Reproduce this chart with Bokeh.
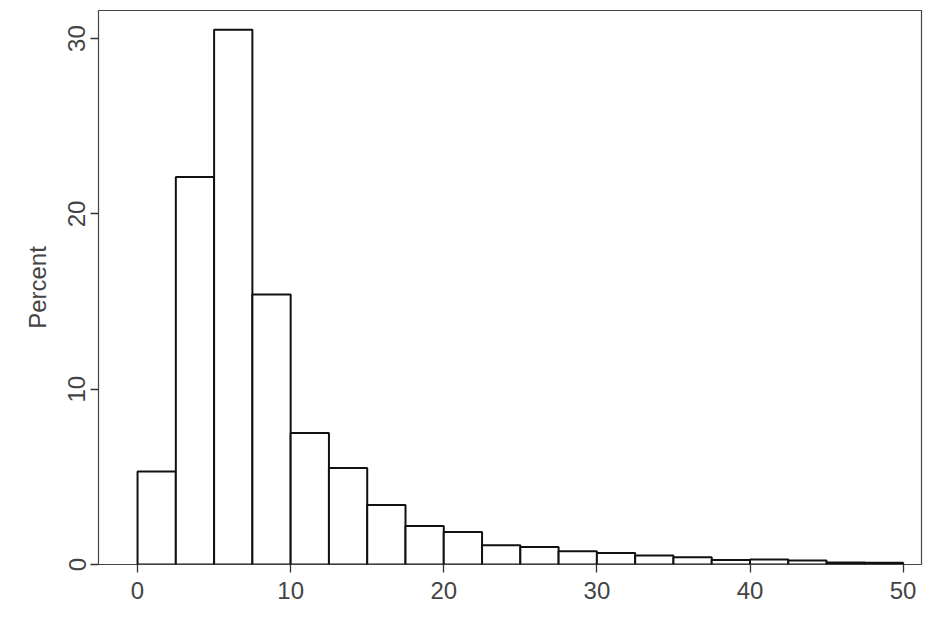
from bokeh.plotting import figure
from bokeh.models import ColumnDataSource, Range1d, FixedTicker
from bokeh.embed import file_html
from bokeh.resources import INLINE

bin_left = [0, 2.5, 5, 7.5, 10, 12.5, 15, 17.5, 20, 22.5,
            25, 27.5, 30, 32.5, 35, 37.5, 40, 42.5, 45, 47.5]
bin_right = [2.5, 5, 7.5, 10, 12.5, 15, 17.5, 20, 22.5, 25,
             27.5, 30, 32.5, 35, 37.5, 40, 42.5, 45, 47.5, 50]
percent = [5.3, 22.1, 30.5, 15.4, 7.5, 5.5, 3.4, 2.2, 1.85, 1.1,
           1.0, 0.75, 0.65, 0.52, 0.42, 0.25, 0.28, 0.23, 0.12, 0.1]
x_ticks = [0, 10, 20, 30, 40, 50]
y_ticks = [0, 10, 20, 30]

src = ColumnDataSource(dict(left=bin_left, right=bin_right,
                            top=percent, bottom=[0] * len(percent)))

p = figure(width=933, height=608, output_backend="svg", toolbar_location=None,
           x_range=Range1d(-2.55, 51.2), y_range=Range1d(0, 31.6),
           min_border_left=98, min_border_right=12,
           min_border_top=10, min_border_bottom=44)

p.quad(left="left", right="right", top="top", bottom="bottom", source=src,
       fill_color="white", line_color="#111111", line_width=2)

p.grid.visible = False
p.background_fill_color = "white"
p.border_fill_color = "white"
p.outline_line_color = "#444444"
p.outline_line_width = 1.2

FONT = "Liberation Sans"
for ax in (p.xaxis[0], p.yaxis[0]):
    ax.axis_line_color = None
    ax.major_tick_line_color = "#333333"
    ax.major_tick_line_width = 1.3
    ax.major_tick_out = 8
    ax.major_tick_in = 0
    ax.minor_tick_line_color = None
    ax.major_label_text_font = FONT
    ax.major_label_text_font_size = "24px"
    ax.major_label_text_color = "#444444"

p.xaxis[0].ticker = FixedTicker(ticks=x_ticks)
p.yaxis[0].ticker = FixedTicker(ticks=y_ticks)
p.xaxis[0].major_label_standoff = 9
p.yaxis[0].major_label_standoff = 5
p.yaxis[0].major_label_orientation = "vertical"

p.yaxis[0].axis_label = "Percent"
p.yaxis[0].axis_label_text_font = FONT
p.yaxis[0].axis_label_text_font_size = "24px"
p.yaxis[0].axis_label_text_font_style = "normal"
p.yaxis[0].axis_label_text_color = "#444444"
p.yaxis[0].axis_label_standoff = 15

open("out.html", "w").write(file_html(p, INLINE))
